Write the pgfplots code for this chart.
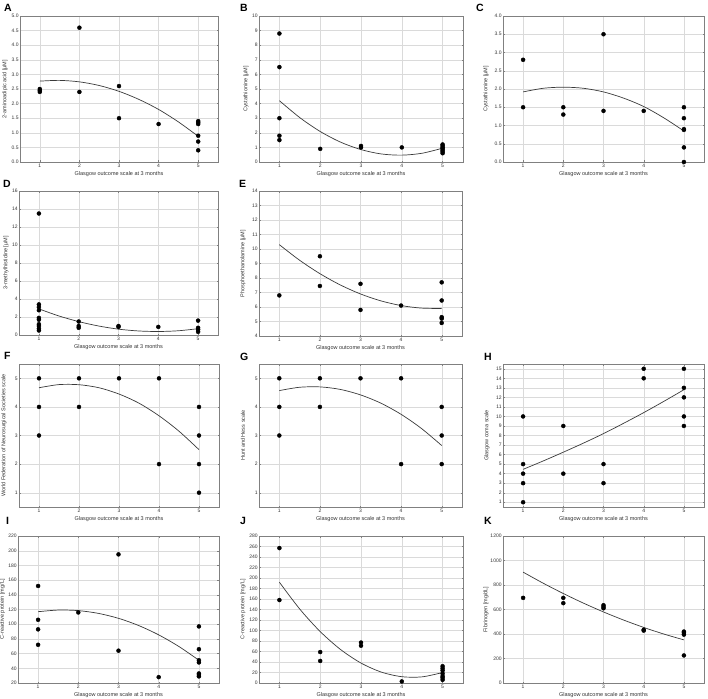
\documentclass[border=0pt]{standalone}
\usepackage{fontspec}
\setmainfont{Liberation Sans}
\usepackage{pgfplots}
\pgfplotsset{compat=1.18}
\definecolor{gridc}{HTML}{DADADA}
\definecolor{framec}{HTML}{808080}
\definecolor{fitc}{HTML}{3A3A3A}
\definecolor{txtc}{HTML}{333333}
\pgfplotsset{
  panel/.style={
    scale only axis, anchor=north west,
    xmin=0.5, xmax=5.5, xtick={1,2,3,4,5},
    grid=major, major grid style={gridc, line width=0.4pt},
    axis line style={framec, line width=0.6pt},
    tick style={framec, line width=0.3pt}, major tick length=1.5pt, tick align=inside,
    tick label style={font=\fontsize{5}{6}\selectfont, text=txtc},
    y tick label style={inner sep=1.2pt},
    x tick label style={inner sep=1.5pt},
    /pgf/number format/assume math mode=true,
    /pgf/number format/set thousands separator={},
    label style={font=\fontsize{5.5}{6.5}\selectfont, text=txtc},
    xlabel={Glasgow outcome scale at 3 months},
    xlabel style={at={(axis description cs:0.5,0)}, anchor=center, yshift=-12pt},
    ylabel style={at={(axis description cs:0,0.5)}, anchor=center},
    scaled y ticks=false,
  },
  ylabsh/.style={ylabel style={yshift=#1}},
  oned/.style={y tick label style={/pgf/number format/.cd, fixed, fixed zerofill, precision=1, /tikz/.cd}},
  pts/.style={only marks, mark=*, mark size=2pt, mark options={draw=black, fill=black}},
  fitl/.style={no marks, smooth, fitc, line width=0.7pt},
}
\newcommand{\plab}[3]{\node[anchor=north west, inner sep=0pt, font=\fontsize{10.5}{12}\bfseries] at (#1pt,-#2pt) {#3};}
\begin{document}
\begin{tikzpicture}
\useasboundingbox (0pt,0pt) rectangle (708pt,-698pt);
% A
\begin{axis}[panel, at={(20pt,-16pt)}, width=198pt, height=146pt, ymin=0, ymax=5,
  ytick={0,0.5,1,1.5,2,2.5,3,3.5,4,4.5,5}, oned, ylabel={2-aminoadipic acid [µM]}, ylabsh=15pt]
\addplot[pts] coordinates {(1,2.5)(1,2.45)(1,2.4)(2,4.6)(2,2.4)(3,2.6)(3,1.5)(4,1.3)(5,1.4)(5,1.35)(5,1.3)(5,0.9)(5,0.7)(5,0.4)};
\addplot[fitl] coordinates {(1,2.77)(1.5,2.795)(2,2.745)(2.5,2.62)(3,2.42)(3.5,2.145)(4,1.8)(4.5,1.373)(5,0.88)};
\end{axis}
% B
\begin{axis}[panel, at={(259pt,-16pt)}, width=204pt, height=146pt, ymin=0, ymax=10,
  ytick={0,1,...,10}, ylabel={Cystathionine [µM]}, ylabsh=13pt]
\addplot[pts] coordinates {(1,8.8)(1,6.5)(1,3.0)(1,1.8)(1,1.5)(2,0.9)(3,1.1)(3,1.0)(4,1.0)(5,1.2)(5,1.1)(5,1.0)(5,0.9)(5,0.8)(5,0.7)(5,0.6)};
\addplot[fitl] coordinates {(1,4.2)(1.5,3.04)(2,2.09)(2.5,1.36)(3,0.85)(3.5,0.55)(4,0.47)(4.5,0.6)(5,0.95)};
\end{axis}
% C
\begin{axis}[panel, at={(503pt,-16pt)}, width=201pt, height=146pt, ymin=0, ymax=4,
  ytick={0,0.5,1,1.5,2,2.5,3,3.5,4}, oned, ylabel={Cystathionine [µM]}, ylabsh=17pt]
\addplot[pts] coordinates {(1,2.8)(1,1.5)(2,1.5)(2,1.3)(3,3.5)(3,1.4)(4,1.4)(5,1.5)(5,1.2)(5,0.9)(5,0.88)(5,0.4)(5,0.0)};
\addplot[fitl] coordinates {(1,1.92)(1.5,2.02)(2,2.05)(2.5,2.02)(3,1.92)(3.5,1.75)(4,1.52)(4.5,1.21)(5,0.85)};
\end{axis}
% D
\begin{axis}[panel, at={(19pt,-191pt)}, width=199pt, height=144pt, ymin=0, ymax=16,
  ytick={0,2,...,16}, ylabel={3-methylhistidine [µM]}, ylabsh=13pt]
\addplot[pts] coordinates {(1,13.5)(1,3.4)(1,3.1)(1,2.75)(1,1.9)(1,1.7)(1,1.2)(1,1.0)(1,0.7)(1,0.5)(2,1.5)(2,1.0)(2,0.8)(3,1.0)(3,0.9)(4,0.9)(5,1.6)(5,0.8)(5,0.6)(5,0.35)};
\addplot[fitl] coordinates {(1,2.9)(1.5,2.12)(2,1.49)(2.5,1.0)(3,0.65)(3.5,0.45)(4,0.39)(4.5,0.47)(5,0.7)};
\end{axis}
% E
\begin{axis}[panel, at={(259pt,-191pt)}, width=203pt, height=145pt, ymin=4, ymax=14,
  ytick={4,5,...,14}, ylabel={Phosphoethanolamine [µM]}, ylabsh=16pt]
\addplot[pts] coordinates {(1,6.8)(2,9.5)(2,7.45)(3,7.6)(3,5.8)(4,6.1)(5,7.7)(5,6.45)(5,5.3)(5,5.2)(5,4.9)};
\addplot[fitl] coordinates {(1,10.3)(1.5,9.225)(2,8.3)(2.5,7.525)(3,6.9)(3.5,6.425)(4,6.1)(4.5,5.925)(5,5.9)};
\end{axis}
% F
\begin{axis}[panel, at={(19pt,-364pt)}, width=200pt, height=143pt, ymin=0.5, ymax=5.5,
  ytick={1,2,3,4,5}, ylabel={World Federation of Neurosurgical Societies scale}, ylabsh=15pt]
\addplot[pts] coordinates {(1,5)(1,4)(1,3)(2,5)(2,4)(3,5)(4,5)(4,2)(5,4)(5,3)(5,2)(5,1)};
\addplot[fitl] coordinates {(1,4.67)(1.5,4.78)(2,4.776)(2.5,4.67)(3,4.45)(3.5,4.13)(4,3.69)(4.5,3.15)(5,2.505)};
\end{axis}
% G
\begin{axis}[panel, at={(259pt,-364pt)}, width=203pt, height=143pt, ymin=0.5, ymax=5.5,
  ytick={1,2,3,4,5}, ylabel={Hunt and Hess scale}, ylabsh=16pt]
\addplot[pts] coordinates {(1,5)(1,4)(1,3)(2,5)(2,4)(3,5)(4,5)(4,2)(5,4)(5,3)(5,2)};
\addplot[fitl] coordinates {(1,4.57)(1.5,4.687)(2,4.70)(2.5,4.612)(3,4.42)(3.5,4.132)(4,3.74)(4.5,3.247)(5,2.65)};
\end{axis}
% H
\begin{axis}[panel, at={(503pt,-364pt)}, width=201pt, height=143pt, ymin=0.5, ymax=15.5,
  ytick={1,2,...,15}, ylabel={Glasgow coma scale}, ylabsh=16pt]
\addplot[pts] coordinates {(1,10)(1,5)(1,4)(1,3)(1,1)(2,9)(2,4)(3,5)(3,3)(4,15)(4,14)(5,15)(5,13)(5,12)(5,10)(5,9)};
\addplot[fitl] coordinates {(1,4.45)(1.5,5.33)(2,6.25)(2.5,7.2)(3,8.2)(3.5,9.28)(4,10.4)(4.5,11.58)(5,12.8)};
\end{axis}
% I
\begin{axis}[panel, at={(18pt,-536pt)}, width=201pt, height=147pt, ymin=20, ymax=220,
  ytick={20,40,...,220}, ylabel={C-reactive protein [mg/L]}, ylabsh=15.5pt]
\addplot[pts] coordinates {(1,152)(1,106)(1,93)(1,72)(2,116)(3,195)(3,64)(4,28)(5,97)(5,66)(5,51)(5,48)(5,33)(5,31)(5,29)};
\addplot[fitl] coordinates {(1,117)(1.5,119.25)(2,118.5)(2.5,114.75)(3,108)(3.5,98.25)(4,85.5)(4.5,69.75)(5,51)};
\end{axis}
% J
\begin{axis}[panel, at={(259pt,-536pt)}, width=204pt, height=147pt, ymin=0, ymax=280,
  ytick={0,20,...,280}, ylabel={C-reactive protein [mg/L]}, ylabsh=16pt]
\addplot[pts] coordinates {(1,257)(1,158)(2,59)(2,42)(3,77)(3,71)(4,3)(5,32)(5,28)(5,24)(5,18)(5,13)(5,10)(5,6)};
\addplot[fitl] coordinates {(1,192)(1.5,140.75)(2,98)(2.5,63.75)(3,38)(3.5,20.75)(4,12)(4.5,11.75)(5,20)};
\end{axis}
% K
\begin{axis}[panel, at={(503pt,-536pt)}, width=201pt, height=147pt, ymin=0, ymax=1200,
  ytick={0,200,...,1200}, ylabel={Fibrinogen [mg/dL]}, ylabsh=17pt]
\addplot[pts] coordinates {(1,695)(2,695)(2,652)(3,635)(3,622)(3,610)(4,435)(4,428)(5,420)(5,410)(5,395)(5,225)};
\addplot[fitl] coordinates {(1,905)(1.5,814.7)(2,730.5)(2.5,652.2)(3,580)(3.5,513.9)(4,453.8)(4.5,399.8)(5,352)};
\end{axis}
\plab{4}{4}{A}
\plab{240}{4}{B}
\plab{476}{4}{C}
\plab{3}{180}{D}
\plab{239}{180}{E}
\plab{4}{352}{F}
\plab{240}{353}{G}
\plab{484}{353}{H}
\plab{6}{517}{I}
\plab{240}{517}{J}
\plab{484}{517}{K}
\end{tikzpicture}
\end{document}
